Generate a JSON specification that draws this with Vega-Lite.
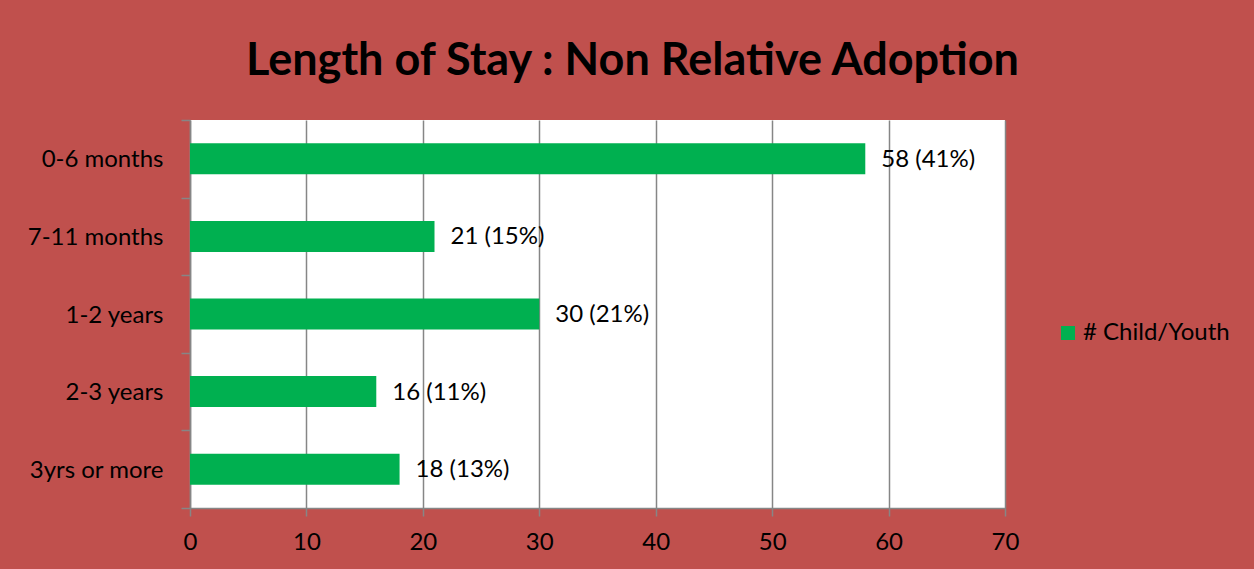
{
  "$schema": "https://vega.github.io/schema/vega-lite/v6.json",
  "width": 815,
  "height": 388,
  "autosize": {"type": "none"},
  "padding": {"left": 190, "top": 120, "right": 249, "bottom": 61},
  "background": "#C0504D",
  "title": {
    "text": "Length of Stay : Non Relative Adoption",
    "font": "Lato",
    "fontSize": 45,
    "fontWeight": "bold",
    "color": "#000000",
    "anchor": "middle",
    "dx": 35,
    "offset": 24
  },
  "data": {
    "values": [
      {"category": "0-6 months", "count": 58, "label": "58 (41%)"},
      {"category": "7-11 months", "count": 21, "label": "21 (15%)"},
      {"category": "1-2 years", "count": 30, "label": "30 (21%)"},
      {"category": "2-3 years", "count": 16, "label": "16 (11%)"},
      {"category": "3yrs or more", "count": 18, "label": "18 (13%)"}
    ]
  },
  "encoding": {
    "y": {
      "field": "category",
      "type": "nominal",
      "sort": null,
      "scale": {"paddingInner": 0, "paddingOuter": 0},
      "axis": {
        "title": null,
        "tickBand": "extent",
        "grid": false,
        "domainColor": "#868686",
        "domainWidth": 1.5,
        "tickColor": "#868686",
        "tickWidth": 1.5,
        "tickSize": 9,
        "labelPadding": 18,
        "labelFont": "Lato",
        "labelFontSize": 24,
        "labelColor": "#000000",
        "labelOffset": 1
      }
    },
    "x": {
      "field": "count",
      "type": "quantitative",
      "scale": {"domain": [0, 70], "nice": false},
      "axis": {
        "title": null,
        "values": [0, 10, 20, 30, 40, 50, 60, 70],
        "grid": true,
        "gridColor": "#868686",
        "gridWidth": 1.5,
        "domainColor": "#868686",
        "domainWidth": 1.5,
        "tickColor": "#868686",
        "tickWidth": 1.5,
        "tickSize": 8,
        "labelPadding": 14,
        "labelFlush": false,
        "labelFont": "Lato",
        "labelFontSize": 24,
        "labelColor": "#000000"
      }
    }
  },
  "layer": [
    {
      "mark": {"type": "bar", "height": {"band": 0.4}},
      "encoding": {
        "color": {
          "datum": "# Child/Youth",
          "type": "nominal",
          "scale": {"range": ["#00B050"]},
          "legend": {
            "title": null,
            "orient": "none",
            "legendX": 866,
            "legendY": 201,
            "symbolType": "square",
            "symbolSize": 196,
            "symbolStrokeWidth": 0,
            "labelFont": "Lato",
            "labelFontSize": 24,
            "labelColor": "#000000",
            "labelOffset": 3
          }
        }
      }
    },
    {
      "mark": {"type": "text", "align": "left", "baseline": "middle", "dx": 16, "dy": 1, "font": "Lato", "fontSize": 24, "color": "#000000"},
      "encoding": {"text": {"field": "label"}}
    }
  ],
  "config": {
    "view": {"fill": "#FFFFFF", "stroke": null}
  }
}
